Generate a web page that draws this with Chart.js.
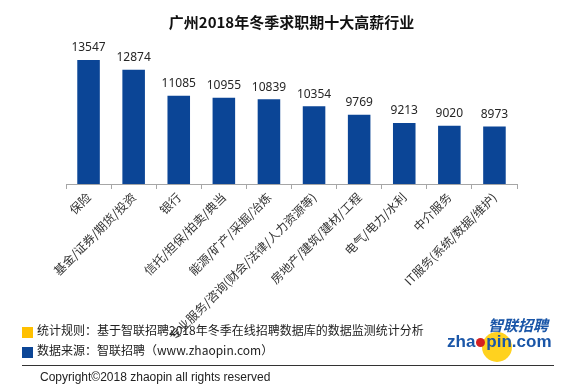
<!DOCTYPE html>
<html>
<head>
<meta charset="utf-8">
<script src="https://cdn.jsdelivr.net/npm/chart.js@4/dist/chart.umd.min.js"></script>
<style>
  body { margin: 0; background: #fff; }
  #wrap { position: relative; width: 567px; height: 392px; overflow: hidden; font-family: "Noto Sans CJK SC", sans-serif; }
  #chart { position: absolute; left: 0; top: 0; }
  .sq { position: absolute; width: 11px; height: 11px; }
  .note { position: absolute; font-size: 12px; color: #222; white-space: nowrap; line-height: 14px; }
  #rule { position: absolute; left: 22px; top: 365px; width: 532px; height: 1px; background: #333; }
  #copy { position: absolute; left: 40px; top: 370px; font: 12px "Liberation Sans", sans-serif; color: #222; white-space: nowrap; }
  #logo { position: absolute; left: 445px; top: 315px; width: 110px; height: 48px; }
  #logo .sun { position: absolute; left: 37px; top: 17px; width: 30px; height: 30px; border-radius: 50%; background: #ffd21f; }
  #logo .cn { position: absolute; left: 43px; top: 1px; font: italic bold 15px "Noto Sans CJK SC", sans-serif; color: #1a56a8; line-height: 17px; }
  #logo .en { position: absolute; left: 2px; top: 17px; font: bold 17px "Liberation Sans", sans-serif; color: #1a56a8; line-height: 19px; white-space: nowrap; }
  #logo .dot { display: inline-block; width: 9px; height: 9px; border-radius: 50%; background: #d62020; margin: 0 1px; }
</style>
</head>
<body>
<div id="wrap">
  <canvas id="chart" width="567" height="392"></canvas>
  <div class="sq" style="left:22px; top:327px; background:#ffc000;"></div>
  <div class="note" style="left:37px; top:323px;">统计规则：基于智联招聘2018年冬季在线招聘数据库的数据监测统计分析</div>
  <div class="sq" style="left:22px; top:347px; background:#0b4596;"></div>
  <div class="note" style="left:37px; top:343px;">数据来源：智联招聘（www.zhaopin.com）</div>
  <div id="rule"></div>
  <div id="copy">Copyright©2018 zhaopin all rights reserved</div>
  <div id="logo">
    <div class="sun"></div>
    <div class="cn">智联招聘</div>
    <div class="en">zha<span class="dot"></span>pin.com</div>
  </div>
</div>
<script>
const industries = [
    "保险",
    "基金/证券/期货/投资",
    "银行",
    "信托/担保/拍卖/典当",
    "能源/矿产/采掘/冶炼",
    "专业服务/咨询(财会/法律/人力资源等)",
    "房地产/建筑/建材/工程",
    "电气/电力/水利",
    "中介服务",
    "IT服务(系统/数据/维护)"
];
const salaries = [13547, 12874, 11085, 10955, 10839, 10354, 9769, 9213, 9020, 8973];

// draws the number above every bar
const valueLabels = {
    id: "valueLabels",
    afterDatasetsDraw(chart) {
        const ctx = chart.ctx;
        const meta = chart.getDatasetMeta(0);
        ctx.save();
        ctx.font = "12px 'Noto Sans', sans-serif";
        ctx.fillStyle = "#262626";
        ctx.textAlign = "center";
        ctx.textBaseline = "middle";
        meta.data.forEach((bar, i) => {
            ctx.fillText(salaries[i], bar.x, bar.y - 12);
        });
        ctx.restore();
    }
};

new Chart(document.getElementById("chart").getContext("2d"), {
    type: "bar",
    data: {
        labels: industries,
        datasets: [{
            data: salaries,
            backgroundColor: "#0b4596",
            barPercentage: 0.5,
            categoryPercentage: 1.0
        }]
    },
    options: {
        responsive: false,
        animation: false,
        layout: { padding: { left: 66, right: 50, top: 0, bottom: 0 } },
        plugins: {
            legend: { display: false },
            tooltip: { enabled: false },
            title: {
                display: true,
                text: "广州2018年冬季求职期十大高薪行业",
                color: "#111",
                font: { family: "'Noto Sans CJK SC'", size: 15, weight: "bold" },
                padding: { top: 13, bottom: 8 }
            }
        },
        scales: {
            y: { display: false, min: 5000, max: 15000 },
            x: {
                afterFit: (scale) => { scale.height = 208; },
                border: { color: "#a6a6a6" },
                grid: { offset: true, drawOnChartArea: false, drawTicks: true, tickLength: 5, color: "#a6a6a6" },
                ticks: {
                    minRotation: 45,
                    maxRotation: 45,
                    autoSkip: false,
                    padding: 1,
                    color: "#333",
                    font: { family: "'Noto Sans CJK SC'", size: 12 }
                }
            }
        }
    },
    plugins: [valueLabels]
});
</script>
</body>
</html>
